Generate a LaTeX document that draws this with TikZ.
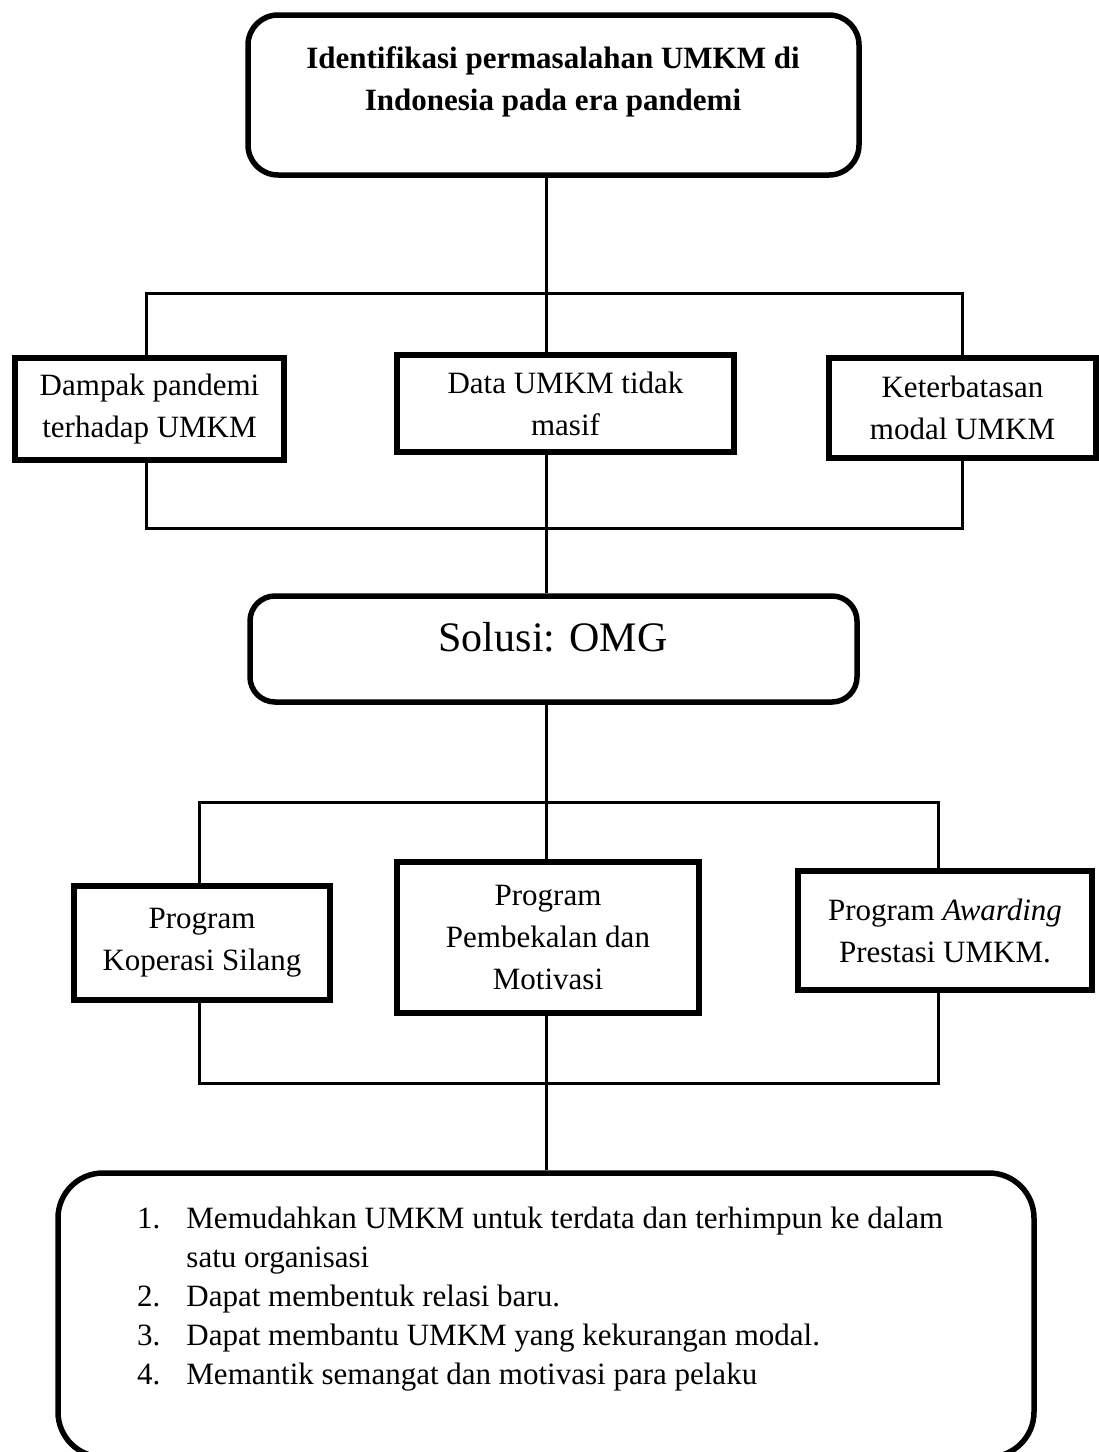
\documentclass[tikz,border=0pt]{standalone}
\usepackage{fontspec}
\setmainfont{Liberation Serif}
\begin{document}
\begin{tikzpicture}[x=1pt,y=-1pt,
  box/.style={draw,line width=5.5pt,align=center,inner sep=0pt,font=\fontsize{31}{42}\selectfont},
  rbox/.style={box,rounded corners=30pt},
  conn/.style={line width=3pt}]
  \useasboundingbox (0,0) rectangle (1099,1452);

  % boxes
  \node[rbox,minimum width=611pt,minimum height=160pt] (ident) at (553.5,95) {};
  \node[font=\fontsize{31}{42}\selectfont\bfseries,align=center] (identtxt) at (553,82)
    {Identifikasi permasalahan UMKM di\\Indonesia pada era pandemi};

  \node[box,minimum width=269pt,minimum height=102pt] (dampak) at (149.5,409) {Dampak pandemi\\terhadap UMKM};
  \node[box,minimum width=337pt,minimum height=97pt] (data) at (565.5,403.5) {Data UMKM tidak\\masif};
  \node[box,minimum width=267pt,minimum height=100pt] (keter) at (962.5,408) {Keterbatasan\\modal UMKM};

  \node[rbox,rounded corners=25pt,minimum width=607pt,minimum height=106pt] (solusi) at (553.5,649) {};
  \node[font=\fontsize{42}{48}\selectfont] (solusitxt) at (553,637) {Solusi: OMG};

  \node[box,minimum width=256pt,minimum height=114pt] (koperasi) at (202,943) {Program\\Koperasi Silang};
  \node[box,minimum width=302pt,minimum height=151pt] (pembekalan) at (548,937.5) {Program\\Pembekalan dan\\Motivasi};
  \node[box,minimum width=294pt,minimum height=119pt] (awarding) at (945,930.5) {Program \textit{Awarding}\\Prestasi UMKM.};

  \node[rbox,rounded corners=45pt,minimum width=976pt,minimum height=284pt] (hasil) at (546,1315) {};
  \node[anchor=north west,inner sep=0pt,font=\fontsize{31}{39}\selectfont] (daftar) at (137,1201)
    {\begin{tabular}{@{}l@{\hspace{26pt}}l@{}}
      1. & Memudahkan UMKM untuk terdata dan terhimpun ke dalam\\
         & satu organisasi\\
      2. & Dapat membentuk relasi baru.\\
      3. & Dapat membantu UMKM yang kekurangan modal.\\
      4. & Memantik semangat dan motivasi para pelaku
    \end{tabular}};

  % connectors
  \coordinate (trunk) at (546,0);
  \coordinate (l1) at (146,293);
  \coordinate (r1) at (962,293);
  \coordinate (l2) at (146,528);
  \coordinate (r2) at (962,528);
  \coordinate (l3) at (199,802);
  \coordinate (r3) at (938,802);
  \coordinate (l4) at (199,1083);
  \coordinate (r4) at (938,1083);

  \draw[conn] (ident.south -| trunk) -- (data.north -| trunk);
  \draw[conn] (l1 |- dampak.north) -- (l1) -- (r1) -- (r1 |- keter.north);
  \draw[conn] (l2 |- dampak.south) -- (l2) -- (r2) -- (r2 |- keter.south);
  \draw[conn] (data.south -| trunk) -- (solusi.north -| trunk);
  \draw[conn] (solusi.south -| trunk) -- (pembekalan.north -| trunk);
  \draw[conn] (l3 |- koperasi.north) -- (l3) -- (r3) -- (r3 |- awarding.north);
  \draw[conn] (l4 |- koperasi.south) -- (l4) -- (r4) -- (r4 |- awarding.south);
  \draw[conn] (pembekalan.south -| trunk) -- (hasil.north -| trunk);
\end{tikzpicture}
\end{document}
